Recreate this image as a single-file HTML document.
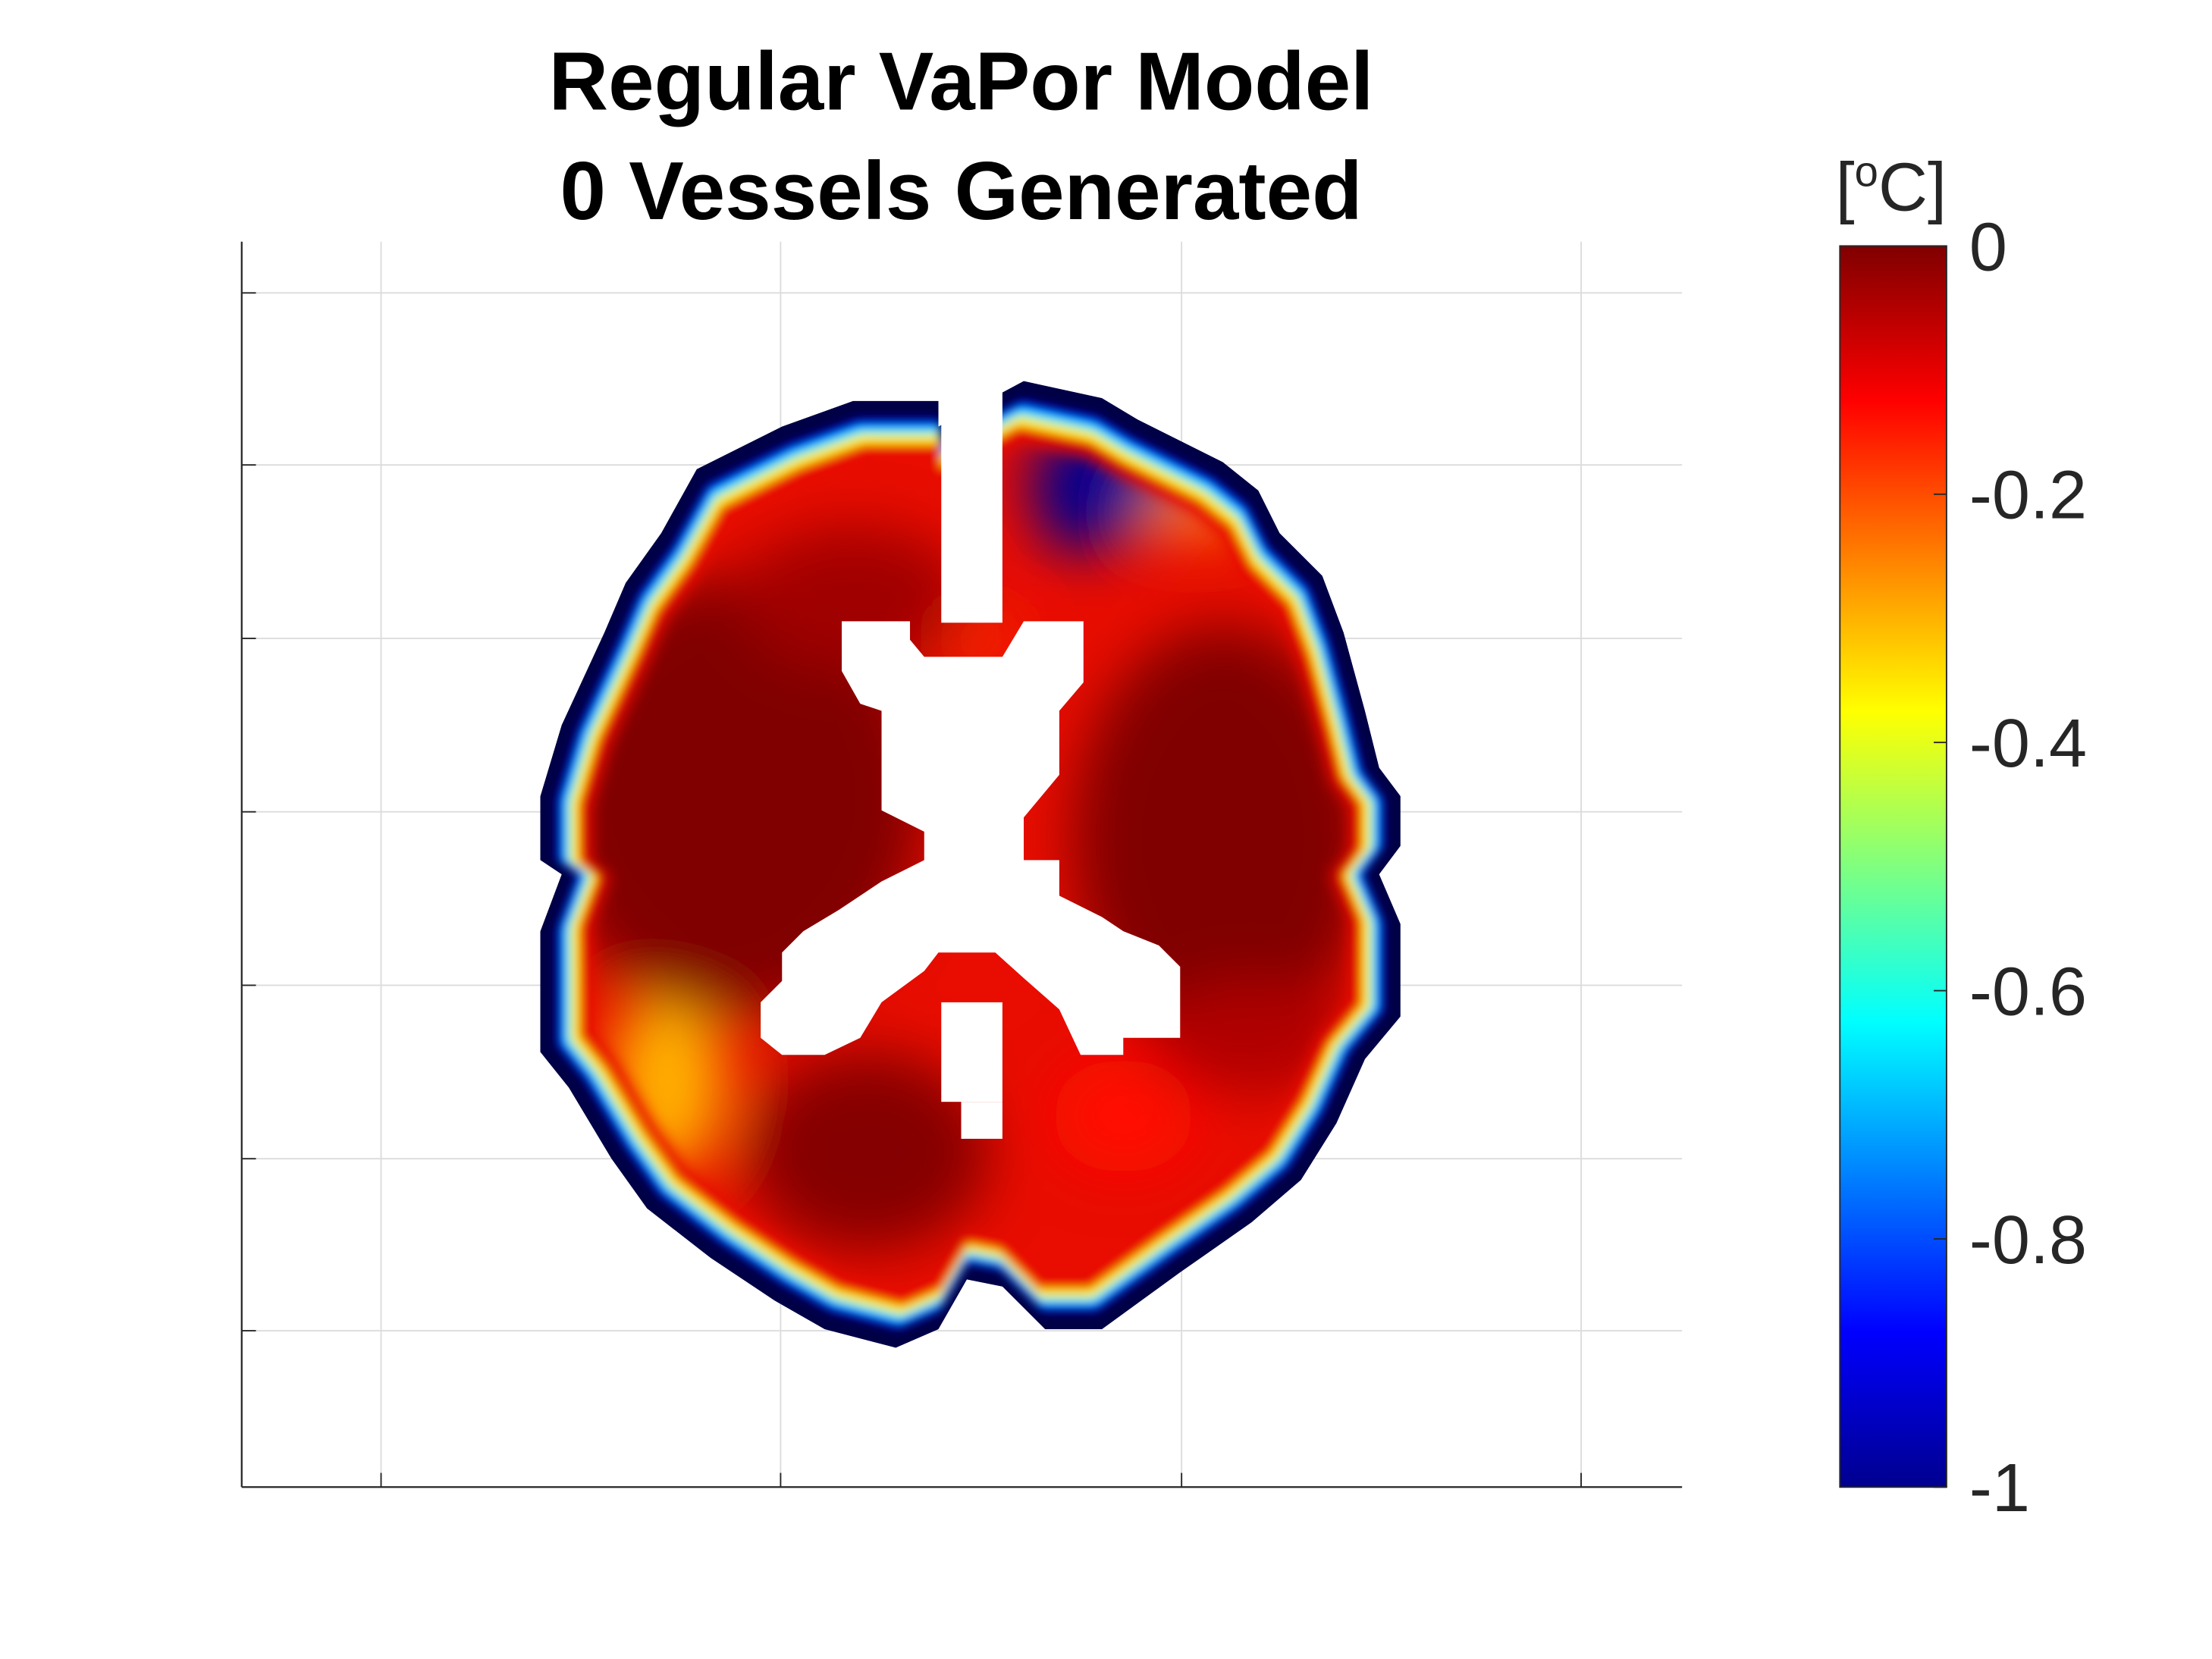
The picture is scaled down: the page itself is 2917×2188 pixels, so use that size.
<!DOCTYPE html>
<html><head><meta charset="utf-8"><style>
html,body{margin:0;padding:0;background:#fff;}
svg{display:block;}
text{font-family:"Liberation Sans",Arial,sans-serif;}
</style></head><body>
<svg id="chart" width="2917" height="2188" viewBox="0 0 1555.7 1166.9" preserveAspectRatio="none">
<defs>
<linearGradient id="jet" x1="0" y1="1" x2="0" y2="0">
<stop offset="0" stop-color="#00008f"/><stop offset="0.125" stop-color="#0000ff"/>
<stop offset="0.375" stop-color="#00ffff"/><stop offset="0.625" stop-color="#ffff00"/>
<stop offset="0.875" stop-color="#ff0000"/><stop offset="1" stop-color="#800000"/>
</linearGradient>
<filter id="b1" x="-20%" y="-20%" width="140%" height="140%"><feGaussianBlur stdDeviation="3.5"/></filter>
<filter id="b2" x="-30%" y="-30%" width="160%" height="160%"><feGaussianBlur stdDeviation="20"/></filter>
<filter id="b3" x="-20%" y="-20%" width="140%" height="140%"><feGaussianBlur stdDeviation="6"/></filter>
<path id="outerPath" d="M600,282 L660,282 L660,300 L720,268 L775,280 L800,295 L860,325 L885,345 L900,375 L930,405 L945,445 L960,500 L970,540 L985,560 L985,595 L970,615 L985,650 L985,715 L960,745 L940,790 L915,830 L880,860 L830,895 L775,935 L735,935 L705,905 L680,900 L660,935 L630,948 L580,935 L545,915 L500,885 L455,850 L430,815 L400,765 L380,740 L380,655 L395,615 L380,605 L380,560 L395,510 L425,445 L440,410 L465,375 L490,330 L550,300 Z"/>
<clipPath id="brainclip"><use href="#outerPath"/></clipPath>
<mask id="innermask"><use href="#outerPath" fill="#fff" filter="url(#b3)" transform="translate(683,622) scale(0.88) translate(-683,-622)"/></mask>
</defs>
<g id="axes">
<g id="grid"></g>
<line x1="170" y1="170" x2="170" y2="1046" stroke="#262626" stroke-width="1.2"/>
<line x1="170" y1="1046" x2="1183" y2="1046" stroke="#262626" stroke-width="1.2"/>
</g>
<g clip-path="url(#brainclip)">
<use href="#outerPath" fill="#000046"/>
<g filter="url(#b1)">
<use href="#outerPath" fill="#0010ff" transform="translate(683,610) scale(0.96) translate(-683,-610)"/>
<use href="#outerPath" fill="#00e8ff" transform="translate(683,615) scale(0.945) translate(-683,-615)"/>
<use href="#outerPath" fill="#ffee00" transform="translate(683,618) scale(0.93) translate(-683,-618)"/>
<use href="#outerPath" fill="#e80800" transform="translate(683,620) scale(0.91) translate(-683,-620)"/>
</g>
<g mask="url(#innermask)">
<g filter="url(#b2)">
<polygon points="770,285 800,300 840,340 800,380 740,390 720,330" fill="#000090"/>
<ellipse cx="470" cy="760" rx="40" ry="65" fill="#ffb000"/>
<ellipse cx="840" cy="360" rx="40" ry="15" fill="#ff9000"/>
<ellipse cx="515" cy="560" rx="135" ry="155" fill="#800000"/>
<ellipse cx="860" cy="590" rx="105" ry="150" fill="#800000"/>
<ellipse cx="610" cy="810" rx="85" ry="70" fill="#850000"/>
<ellipse cx="600" cy="420" rx="80" ry="50" fill="#a00000"/>
<ellipse cx="880" cy="730" rx="70" ry="40" fill="#b00000"/>
<ellipse cx="790" cy="785" rx="50" ry="40" fill="#ff1000"/>
<ellipse cx="690" cy="450" rx="25" ry="15" fill="#ff3000"/>
</g>
</g>
</g>
<g fill="#fff">
<rect x="662" y="270" width="43" height="168"/>
<polygon points="592,437 640,437 640,450 650,462 705,462 720,437 762,437 762,480 745,500 745,545 720,575 720,605 745,605 745,630 775,645 790,655 815,665 830,680 830,730 790,730 790,742 760,742 745,710 720,688 700,670 660,670 650,683 620,705 605,730 580,742 550,742 535,730 535,705 550,690 550,670 565,655 590,640 620,620 650,605 650,585 620,570 620,500 605,495 592,472"/>
<rect x="662" y="705" width="43" height="70"/>
<rect x="676" y="775" width="29" height="26"/>
</g>
<text x="676" y="77" text-anchor="middle" font-size="58" font-weight="bold" fill="#000">Regular VaPor Model</text>
<text x="676" y="154" text-anchor="middle" font-size="58" font-weight="bold" fill="#000">0 Vessels Generated</text>
<rect x="1294" y="173" width="75" height="873" fill="url(#jet)" stroke="#262626" stroke-width="1"/>
<g id="cbticks"></g>
<text x="1330" y="148" text-anchor="middle" font-size="48" fill="#262626">[<tspan font-size="30" dy="-17">o</tspan><tspan dy="17">C]</tspan></text>
</svg>
<script>
const xGrid = [268, 549, 831, 1112];
const yGrid = [206, 327, 449, 571, 693, 815, 936];
const cbTickValues = [0, -0.2, -0.4, -0.6, -0.8, -1];
const cbTickLabels = ["0", "-0.2", "-0.4", "-0.6", "-0.8", "-1"];
const cbMin = -1, cbMax = 0, cbTop = 173, cbBottom = 1046;
const NS = "http://www.w3.org/2000/svg";
const grid = document.getElementById("grid");
xGrid.forEach(x => {
  const l = document.createElementNS(NS, "line");
  l.setAttribute("x1", x); l.setAttribute("x2", x); l.setAttribute("y1", 170); l.setAttribute("y2", 1046);
  l.setAttribute("stroke", "#dcdcdc"); l.setAttribute("stroke-width", "1");
  
  
  grid.appendChild(l);
  const t = document.createElementNS(NS, "line");
  t.setAttribute("x1", x); t.setAttribute("x2", x); t.setAttribute("y1", 1036); t.setAttribute("y2", 1046);
  t.setAttribute("stroke", "#262626");
  
  
  grid.appendChild(t);
});
yGrid.forEach(y => {
  const l = document.createElementNS(NS, "line");
  l.setAttribute("x1", 170); l.setAttribute("x2", 1183); l.setAttribute("y1", y); l.setAttribute("y2", y);
  l.setAttribute("stroke", "#dcdcdc"); l.setAttribute("stroke-width", "1");
  
  
  grid.appendChild(l);
  const t = document.createElementNS(NS, "line");
  t.setAttribute("x1", 170); t.setAttribute("x2", 180); t.setAttribute("y1", y); t.setAttribute("y2", y);
  t.setAttribute("stroke", "#262626");
  
  
  grid.appendChild(t);
});
const cb = document.getElementById("cbticks");
function cbY(v){ return cbBottom - (v - cbMin) / (cbMax - cbMin) * (cbBottom - cbTop); }
cbTickValues.forEach((v, i) => {
  const y = cbY(v);
  const t = document.createElementNS(NS, "line");
  t.setAttribute("x1", 1360); t.setAttribute("x2", 1369); t.setAttribute("y1", y); t.setAttribute("y2", y);
  t.setAttribute("stroke", "#262626");
  
  
  cb.appendChild(t);
  const tx = document.createElementNS(NS, "text");
  tx.setAttribute("x", 1385); tx.setAttribute("y", y + 17);
  tx.setAttribute("font-size", "48"); tx.setAttribute("fill", "#262626");
  tx.textContent = cbTickLabels[i];
  
  
  cb.appendChild(tx);
});
</script>
</body></html>
